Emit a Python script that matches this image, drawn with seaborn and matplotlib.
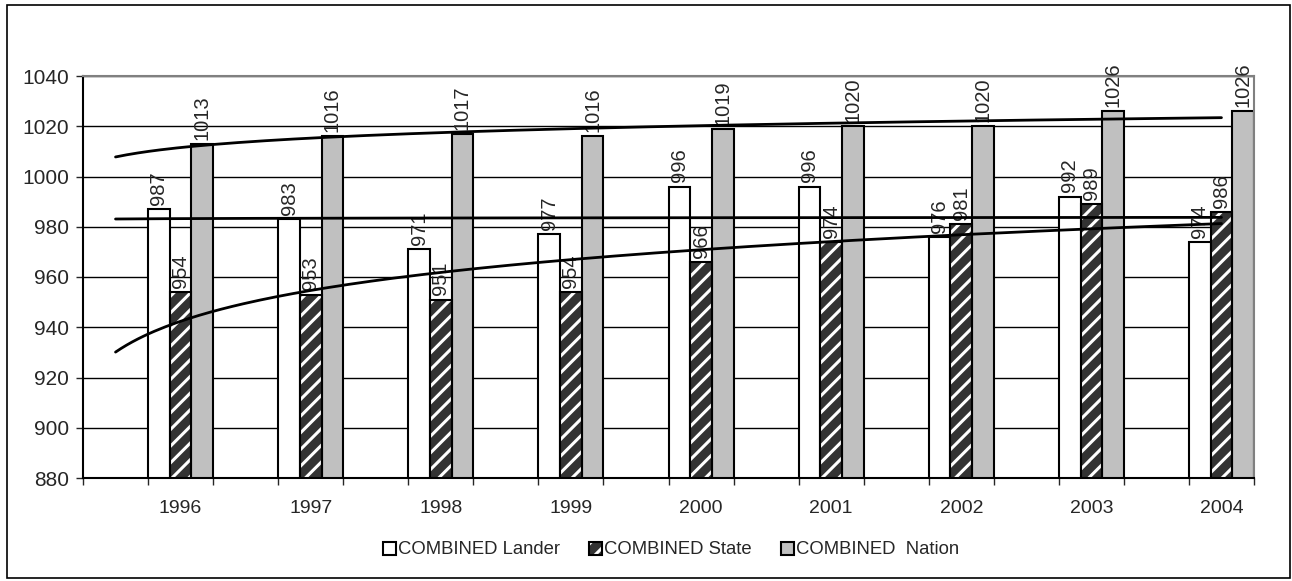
import numpy as np
import pandas as pd
import matplotlib
matplotlib.use("Agg")
import matplotlib.pyplot as plt
from matplotlib.patches import Patch, Rectangle
import seaborn as sns

# data
years = ["1996", "1997", "1998", "1999", "2000", "2001", "2002", "2003", "2004"]
lander = [987, 983, 971, 977, 996, 996, 976, 992, 974]
state = [954, 953, 951, 954, 966, 974, 981, 989, 986]
nation = [1013, 1016, 1017, 1016, 1019, 1020, 1020, 1026, 1026]
series_names = ["COMBINED Lander", "COMBINED State", "COMBINED  Nation"]

df = pd.DataFrame({
    "year": years * 3,
    "score": lander + state + nation,
    "series": [series_names[0]] * 9 + [series_names[1]] * 9 + [series_names[2]] * 9,
})

sns.set_style("white")
plt.rcParams["font.family"] = ["Liberation Sans", "DejaVu Sans"]
plt.rcParams["hatch.linewidth"] = 2.2

colors = ["#ffffff", "#333333", "#c0c0c0"]

fig = plt.figure(figsize=(12.92, 5.81), dpi=100)
W, H = 1292, 581
ax = fig.add_axes([83 / W, 1 - 478 / H, (1254 - 83) / W, (478 - 76) / H])

sns.barplot(data=df, x="year", y="score", hue="series", palette=colors,
            width=0.5, gap=0, edgecolor="black", linewidth=1.5,
            saturation=1, legend=False, ax=ax, zorder=2)

# hatched state bars: white stripes on dark, then black outline on top
for bar in ax.containers[1]:
    bar.set_edgecolor("white")
    bar.set_hatch("//")
    bar.set_linewidth(0)
    ax.add_patch(Rectangle(bar.get_xy(), bar.get_width(), bar.get_height(),
                           fill=False, edgecolor="black", linewidth=1.5, zorder=2.5))

for cont in ax.containers:
    ax.bar_label(cont, rotation=90, padding=3, fontsize=14.5)

# logarithmic trend lines (excel style), x = 1..9
xs = np.arange(1, 10)
xline = np.linspace(0.5, 9, 200)
for vals in (lander, state, nation):
    a, b = np.polyfit(np.log(xs), vals, 1)
    ax.plot(xline - 1, a * np.log(xline) + b, color="black", lw=2, zorder=3)

ax.set_ylim(880, 1040)
ax.set_yticks(range(880, 1041, 20))
ax.set_xlim(-0.75, 8.25)
ax.set_xticks(np.arange(-0.75, 8.26, 0.5))
ax.set_xticklabels([])
for i, y in enumerate(years):
    ax.text(i, -0.075, y, transform=ax.get_xaxis_transform(), ha="center", va="center", fontsize=14)
ax.set_xlabel("")
ax.set_ylabel("")
ax.grid(axis="y", color="black", lw=1)
ax.set_axisbelow(True)
ax.tick_params(axis="y", labelsize=15, length=5, width=1, direction="out", left=True, pad=5)
ax.tick_params(axis="x", length=5, width=1, direction="out", bottom=True)
for s in ("left", "bottom"):
    ax.spines[s].set_color("black")
    ax.spines[s].set_linewidth(1.5)
for s in ("top", "right"):
    ax.spines[s].set_color("#808080")
    ax.spines[s].set_linewidth(1.5)

handles = [Patch(facecolor=colors[0], edgecolor="black", lw=1.5),
           (Patch(facecolor=colors[1], edgecolor="white", hatch="//", lw=0),
            Patch(fill=False, edgecolor="black", lw=1.5)),
           Patch(facecolor=colors[2], edgecolor="black", lw=1.5)]
fig.legend(handles, series_names, loc="center", bbox_to_anchor=(671 / W, 1 - 550 / H),
           ncol=3, frameon=False, fontsize=13.3, handlelength=0.7, handleheight=0.7,
           handletextpad=0.1, columnspacing=1.6)

# outer chart border
fig.add_artist(Rectangle((7 / W, 3 / H), (1290 - 7) / W, (573) / H, transform=fig.transFigure,
                         fill=False, edgecolor="black", lw=1.2))

fig.savefig("out.png", dpi=100)
